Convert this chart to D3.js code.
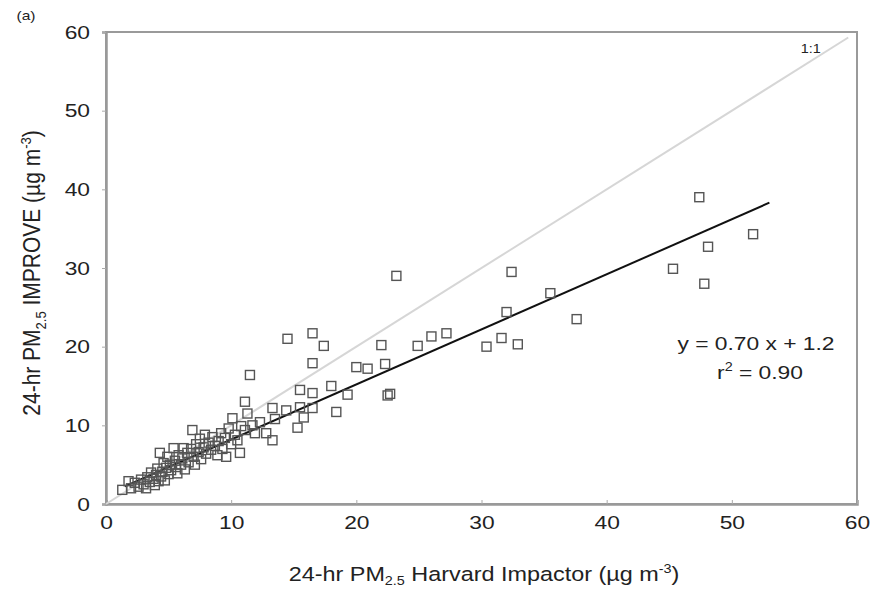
<!DOCTYPE html>
<html>
<head>
<meta charset="utf-8">
<script src="https://d3js.org/d3.v7.min.js"></script>
<style>
  body { margin: 0; background: #fff; }
  text { font-family: "Liberation Sans", Arial, sans-serif; fill: #222; }
</style>
</head>
<body>
<div id="chart"></div>
<script>
// Harvard Impactor (x) vs IMPROVE (y), 24-hr PM2.5, ug m-3
var harvard = [1.3,1.8,2.0,2.3,2.6,2.8,3.0,3.2,3.3,3.5,3.6,3.8,3.9,4.0,4.1,4.2,4.3,4.4,4.5,4.6,
  4.7,4.8,4.9,5.0,5.1,5.2,5.4,5.5,5.6,5.7,5.8,6.0,6.1,6.2,6.3,6.5,6.6,6.8,6.9,7.0,
  7.1,7.2,7.4,7.5,7.6,7.8,7.9,8.0,8.2,8.4,8.5,8.7,8.9,9.0,9.2,9.3,9.5,9.6,9.8,10.0,
  10.1,10.3,10.5,10.7,10.8,11.1,11.1,11.3,11.5,11.7,11.9,12.3,12.8,13.3,13.3,13.5,14.4,14.5,15.3,15.5,
  15.5,15.8,16.5,16.5,16.5,16.5,17.4,18.0,18.4,19.3,20.0,20.9,22.0,22.3,22.5,22.7,23.2,24.9,26.0,27.2,
  30.4,31.6,32.0,32.4,32.9,35.5,37.6,45.3,47.4,47.8,48.1,51.7];
var improve = [1.8,2.9,2.0,2.7,2.2,3.1,2.5,2.0,3.4,2.8,4.0,3.2,2.4,3.7,4.5,2.9,6.5,3.5,4.1,5.2,
  3.0,4.6,6.0,3.8,5.0,4.3,7.1,5.5,4.7,3.9,6.2,5.0,5.8,7.1,4.4,6.5,5.3,7.0,9.4,6.0,
  5.0,7.6,6.6,8.3,5.7,7.2,8.8,6.4,7.8,6.9,8.5,7.4,6.2,8.0,9.0,7.0,8.4,6.0,9.6,7.6,
  10.9,8.8,8.1,6.5,9.9,9.4,13.0,11.5,16.4,10.0,9.0,10.4,9.0,8.1,12.2,10.8,11.9,21.0,9.7,12.3,
  14.5,11.0,12.2,14.1,17.9,21.7,20.1,15.0,11.7,13.9,17.4,17.2,20.2,17.8,13.8,14.0,29.0,20.1,21.3,21.7,
  20.0,21.1,24.4,29.5,20.3,26.8,23.5,29.9,39.0,28.0,32.7,34.3];
var xTicks = [0, 10, 20, 30, 40, 50, 60];
var yTicks = [0, 10, 20, 30, 40, 50, 60];
var slope = 0.70, intercept = 1.2, fitRange = [1.5, 53];

var W = 875, H = 592;
var margin = {top: 32, right: 18, bottom: 88, left: 106};
var stretch = 1.2;  // the source figure is a little wider than tall

var svg = d3.select("#chart").append("svg")
  .attr("width", W).attr("height", H);

var x = d3.scaleLinear().domain([0, 60]).range([margin.left, W - margin.right]);
var y = d3.scaleLinear().domain([0, 60]).range([H - margin.bottom, margin.top]);

// helper: text placed at (px,py) and widened horizontally
function label(px, py, size, anchor) {
  return svg.append("text")
    .attr("transform", "translate(" + px + "," + py + ") scale(" + stretch + ",1)")
    .attr("text-anchor", anchor || "middle")
    .style("font-size", size + "px");
}

// frame
svg.append("rect")
  .attr("x", x(0)).attr("y", y(60))
  .attr("width", x(60) - x(0)).attr("height", y(0) - y(60))
  .attr("fill", "none").attr("stroke", "#9a9a9a").attr("stroke-width", 2);

// axes
var xAxis = svg.append("g")
  .attr("transform", "translate(0," + y(0) + ")")
  .call(d3.axisBottom(x).tickValues(xTicks).tickSize(-4).tickPadding(12));
var yAxis = svg.append("g")
  .attr("transform", "translate(" + x(0) + ",0)")
  .call(d3.axisLeft(y).tickValues(yTicks).tickSize(4).tickPadding(10));
[xAxis, yAxis].forEach(function(g) {
  g.select(".domain").attr("stroke", "#999").attr("stroke-width", 2.5);
  g.selectAll(".tick line").attr("stroke", "#aaa");
  g.selectAll(".tick text")
    .attr("font-family", null)
    .style("font-size", "19px").attr("fill", "#222")
    .attr("transform", "scale(" + stretch + ",1)");
});
// keep the scaled y labels right-aligned at the same spot
yAxis.selectAll(".tick text").attr("x", -16 / stretch);

// 1:1 line
svg.append("line")
  .attr("x1", x(0)).attr("y1", y(0)).attr("x2", x(59.3)).attr("y2", y(59.3))
  .attr("stroke", "#d6d6d6").attr("stroke-width", 2);
label(x(56.3), y(57.3), 12).attr("fill", "#999").text("1:1");

// regression line
svg.append("line")
  .attr("x1", x(fitRange[0])).attr("y1", y(slope * fitRange[0] + intercept))
  .attr("x2", x(fitRange[1])).attr("y2", y(slope * fitRange[1] + intercept))
  .attr("stroke", "#111").attr("stroke-width", 2);

// points
var s = 9;
svg.append("g").selectAll("rect")
  .data(harvard.map(function(d, i) { return [d, improve[i]]; }))
  .enter().append("rect")
  .attr("x", function(d) { return x(d[0]) - s / 2; })
  .attr("y", function(d) { return y(d[1]) - s / 2; })
  .attr("width", s).attr("height", s)
  .attr("fill", "none").attr("stroke", "#555").attr("stroke-width", 1.4);

// equation
label(756, 350, 19).text("y = 0.70 x + 1.2");
var r2 = label(760, 379, 19);
r2.append("tspan").text("r");
r2.append("tspan").attr("dy", -8).style("font-size", "12px").text("2");
r2.append("tspan").attr("dy", 8).text(" = 0.90");

// axis titles
var xt = label(484, 581, 19.5);
xt.append("tspan").text("24-hr PM");
xt.append("tspan").attr("dy", 4).style("font-size", "12px").text("2.5");
xt.append("tspan").attr("dy", -4).text(" Harvard Impactor (\u00b5g m");
xt.append("tspan").attr("dy", -8).style("font-size", "12px").text("-3");
xt.append("tspan").attr("dy", 8).text(")");

var yt = svg.append("text")
  .attr("transform", "translate(40,273) rotate(-90) scale(1,1.15)")
  .attr("text-anchor", "middle")
  .style("font-size", "21px");
yt.append("tspan").text("24-hr PM");
yt.append("tspan").attr("dy", 5).style("font-size", "13px").text("2.5");
yt.append("tspan").attr("dy", -5).text(" IMPROVE (\u00b5g m");
yt.append("tspan").attr("dy", -8).style("font-size", "13px").text("-3");
yt.append("tspan").attr("dy", 8).text(")");

label(26, 20, 13).text("(a)");
</script>
</body>
</html>
